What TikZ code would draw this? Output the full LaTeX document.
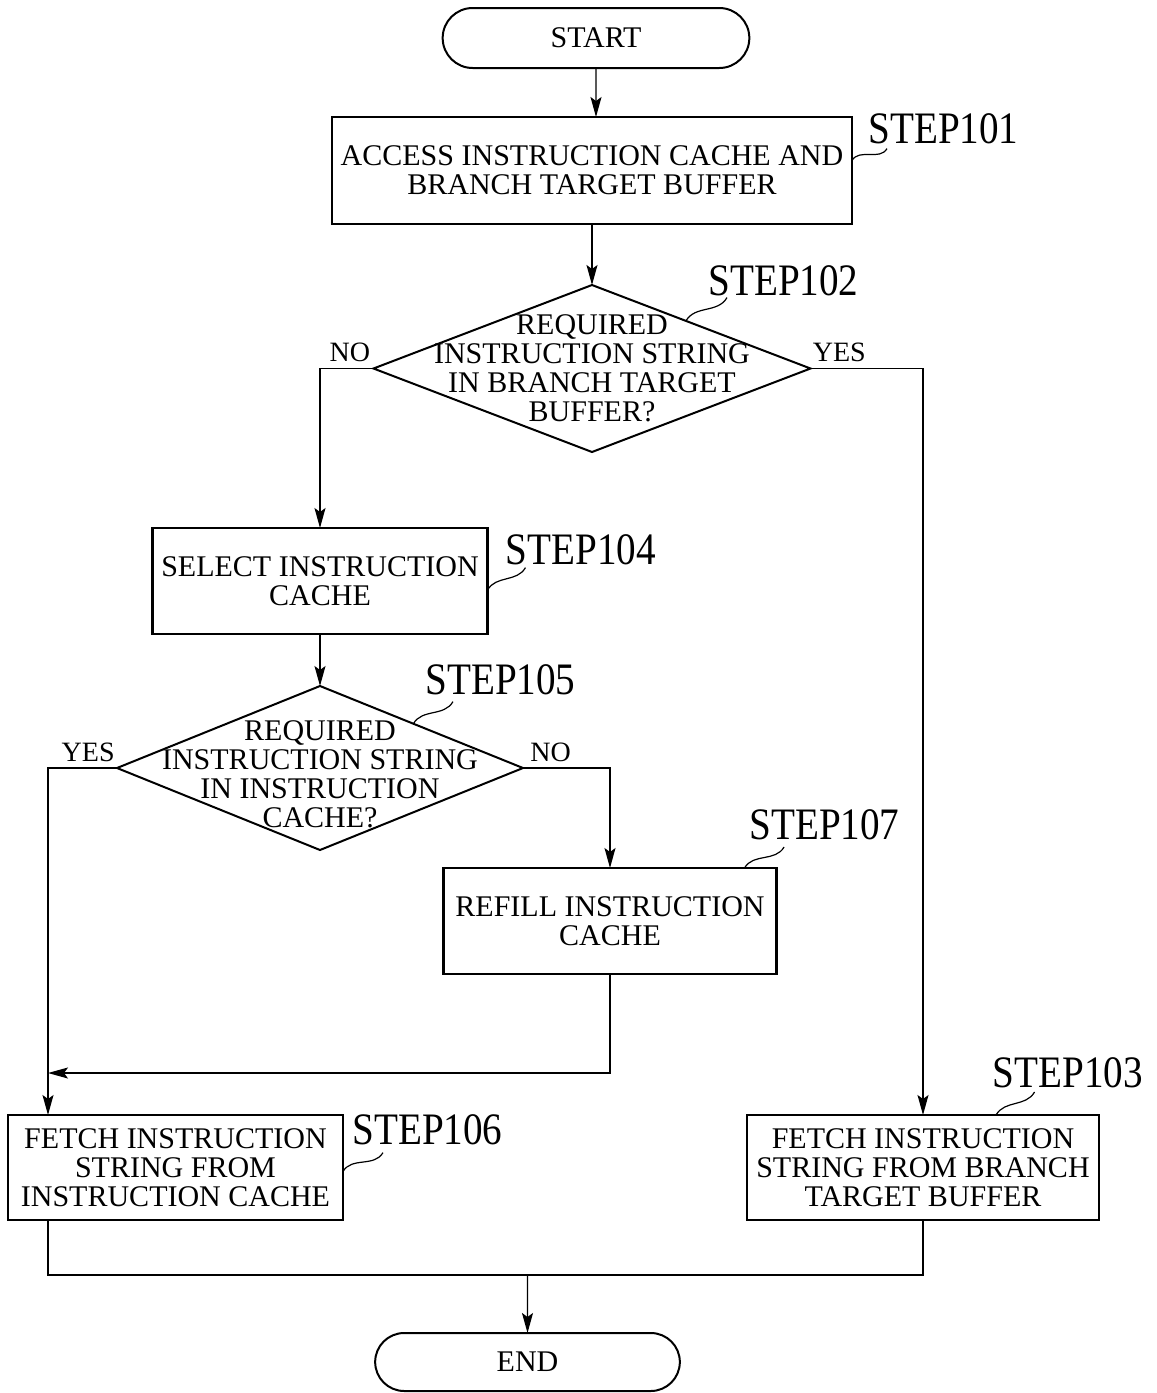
\documentclass[tikz,border=0pt]{standalone}
\usepackage{fontspec}
\setmainfont{Liberation Serif}
\newfontfamily\stepfont{Liberation Serif}[FakeStretch=0.87]
\usetikzlibrary{arrows.meta, positioning, shapes.geometric, shapes.misc, calc}

\begin{document}
\begin{tikzpicture}[
    boxfont/.style={font=\fontsize{15pt}{14.5pt}\selectfont},
    process/.style={draw, rectangle, line width=1.3pt, outer sep=0pt, align=center, inner sep=2pt, boxfont},
    terminal/.style={draw, rounded rectangle, line width=1pt, outer sep=0pt, minimum width=160pt, minimum height=30pt, boxfont},
    decision/.style={draw, diamond, line width=1pt, outer sep=0pt, inner sep=0pt},
    qtext/.style={align=center, inner sep=0pt, boxfont},
    steplbl/.style={inner sep=0pt, font=\stepfont\fontsize{22.5pt}{24pt}\selectfont},
    yesno/.style={inner sep=0pt, font=\fontsize{14pt}{16pt}\selectfont},
    line/.style={line width=0.65pt},
    arrow/.style={line, -{Stealth[length=10pt, width=5.5pt, inset=2pt]}},
    squig/.style={line width=0.6pt}
]
\useasboundingbox (0,0) rectangle (578.5pt,-696.5pt);

% === Start and access ===
\node[terminal] (start) at (298pt,-19pt) {START};
\node[process, below=24.5pt of start, xshift=-2pt, minimum width=260pt, minimum height=53.5pt] (access) {ACCESS INSTRUCTION CACHE AND\\BRANCH TARGET BUFFER};

% === Branch target buffer test ===
\node[decision, below=30.5pt of access, minimum width=218.5pt, minimum height=83.5pt] (btbhit) {};
\node[qtext] (btbtxt) at (btbhit) {REQUIRED\\INSTRUCTION STRING\\IN BRANCH TARGET\\BUFFER?};

% === Instruction cache path ===
\node[process, below=38pt of btbhit, xshift=-136pt, minimum width=167.5pt, minimum height=53pt] (select) {SELECT INSTRUCTION\\CACHE};
\node[decision, below=26pt of select, minimum width=203pt, minimum height=82pt] (cachehit) {};
\node[qtext] (cachetxt) at ([yshift=-3pt]cachehit) {REQUIRED\\INSTRUCTION STRING\\IN INSTRUCTION\\CACHE?};
\node[process, below=9pt of cachehit, xshift=145pt, minimum width=166.5pt, minimum height=53pt] (refill) {REFILL INSTRUCTION\\CACHE};

% === Fetch boxes ===
\node[process, below=132.5pt of cachehit, xshift=-72.25pt, minimum width=167.5pt, minimum height=52.5pt] (fetchic) {FETCH INSTRUCTION\\STRING FROM\\INSTRUCTION CACHE};
\node[process, right=202pt of fetchic, minimum width=176pt, minimum height=52.5pt] (fetchbtb) {FETCH INSTRUCTION\\STRING FROM BRANCH\\TARGET BUFFER};

% === End ===
\node[terminal, below=56.5pt of fetchic, xshift=176pt, minimum width=159pt, minimum height=29pt] (end) {END};

% === Helper points ===
\coordinate (icin) at ([xshift=20pt]fetchic.north west);
\coordinate (icout) at ([xshift=20pt]fetchic.south west);
\coordinate (join) at ([yshift=21pt]icin);
\coordinate[above=29pt of end] (merge);

% ============ ARROWS ============
\draw[arrow] (start) -- (start |- access.north);
\draw[arrow] (access) -- (btbhit);

% Branch target buffer test
\draw[arrow] (btbhit.west) -| (select.north);
\draw[arrow] (btbhit.east) -| (fetchbtb.north);

% Instruction cache test
\draw[arrow] (select) -- (cachehit);
\draw[arrow] (cachehit.west) -| (icin);
\draw[arrow] (cachehit.east) -| (refill.north);
\draw[arrow] (refill.south) |- (join);

% To end
\draw[line] (icout) |- (merge) -| (fetchbtb.south);
\draw[arrow] (merge) -- (end);

% Yes / No labels
\node[yesno, above left=3pt and 1.5pt of btbhit.west] (no1) {NO};
\node[yesno, above right=3pt and 1pt of btbhit.east] (yes1) {YES};
\node[yesno, above left=3pt and 1pt of cachehit.west] (yes2) {YES};
\node[yesno, above right=3pt and 3.5pt of cachehit.east] (no2) {NO};

% Step labels
\node[steplbl, right=8pt of access.north east, yshift=-6pt] (s101) {STEP101};
\node[steplbl, right=58pt of btbhit.north, yshift=2pt] (s102) {STEP102};
\node[steplbl, above=13.5pt of fetchbtb.north east, xshift=-15.5pt] (s103) {STEP103};
\node[steplbl, right=9pt of select.north east, yshift=-11pt] (s104) {STEP104};
\node[steplbl, right=52.5pt of cachehit.north, yshift=3pt] (s105) {STEP105};
\node[steplbl, right=4.5pt of fetchic.north east, yshift=-7.5pt] (s106) {STEP106};
\node[steplbl, above=14pt of refill.north east, xshift=24pt] (s107) {STEP107};

\draw[squig] ([yshift=5pt]access.east) to[out=60, in=-120] ([xshift=9.5pt, yshift=-2pt]s101.south west);
\draw[squig] ($(btbhit.north)!0.43!(btbhit.east)$) to[out=60, in=-120] ([xshift=9.5pt, yshift=-0.5pt]s102.south west);
\draw[squig] ([xshift=36.5pt]fetchbtb.north) to[out=60, in=-120] ([xshift=21pt, yshift=-2pt]s103.south west);
\draw[squig] ([yshift=-4.5pt]select.east) to[out=60, in=-120] ([xshift=10pt, yshift=-1pt]s104.south west);
\draw[squig] ($(cachehit.north)!0.46!(cachehit.east)$) to[out=60, in=-120] ([xshift=14pt, yshift=-3pt]s105.south west);
\draw[squig] ([yshift=-2pt]fetchic.east) to[out=60, in=-120] ([xshift=15.5pt, yshift=-3.5pt]s106.south west);
\draw[squig] ([xshift=-16pt]refill.north east) to[out=60, in=-120] ([xshift=17.5pt, yshift=-3.5pt]s107.south west);

\end{tikzpicture}
\end{document}
